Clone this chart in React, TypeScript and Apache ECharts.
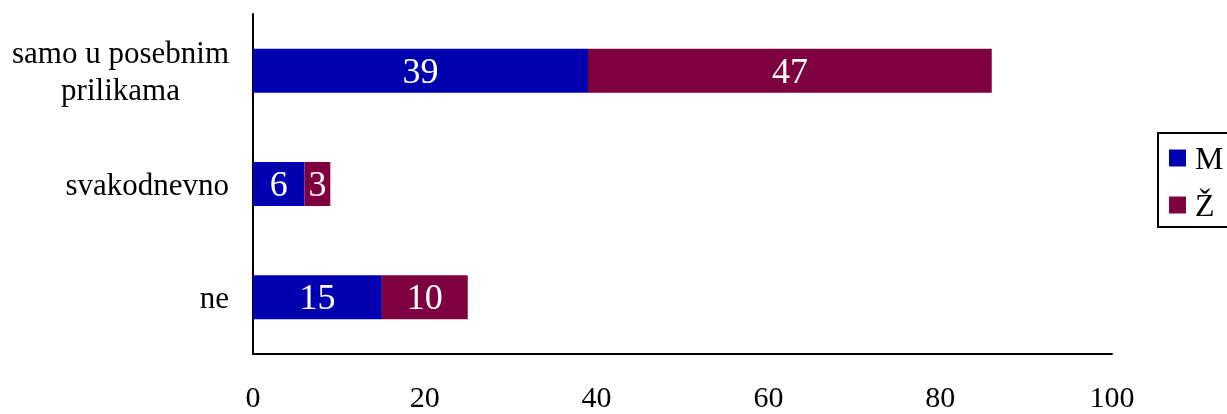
import React, { useEffect, useRef } from "react";
import * as echarts from "echarts";

const categories = ["ne", "svakodnevno", "samo u posebnim\nprilikama"];
const seriesNames = ["M", "Ž"];
const valuesM = [15, 6, 39];
const valuesZ = [10, 3, 47];
const colors = ["#0000b0", "#7f003f"];
const FONT = "'Liberation Serif', 'Times New Roman', serif";

export default function App() {
  const ref = useRef<HTMLDivElement>(null);
  useEffect(() => {
    if (!ref.current) return;
    const chart = echarts.init(ref.current, undefined, { renderer: "svg" });
    chart.setOption({
      animation: false,
      textStyle: { fontFamily: FONT },
      grid: { left: 253, right: 115, top: 14, bottom: 60, containLabel: false },
      legend: {
        orient: "vertical",
        left: 1158,
        top: 133,
        padding: [9, 40, 6, 11],
        borderColor: "#000",
        borderWidth: 2,
        itemWidth: 17,
        itemHeight: 17,
        itemGap: 15,
        icon: "rect",
        textStyle: { fontFamily: FONT, fontSize: 32, color: "#000", lineHeight: 32, padding: [0, 0, 0, 4] },
        data: seriesNames,
      },
      xAxis: {
        type: "value",
        min: 0,
        max: 100,
        interval: 20,
        splitLine: { show: false },
        axisTick: { show: false },
        axisLine: { show: true, lineStyle: { color: "#000", width: 2 } },
        axisLabel: { fontFamily: FONT, fontSize: 30, color: "#000", margin: 30, lineHeight: 24 },
      },
      yAxis: {
        type: "category",
        data: categories,
        axisTick: { show: false },
        axisLine: { show: true, lineStyle: { color: "#000", width: 2 } },
        axisLabel: {
          fontFamily: FONT,
          fontSize: 31,
          color: "#000",
          margin: 24,
          formatter: (v: string) => v.split("\n").map((l) => `{c|${l}}`).join("\n"),
          rich: { c: { fontFamily: FONT, fontSize: 31, color: "#000", align: "center", lineHeight: 37 } },
        },
      },
      series: [valuesM, valuesZ].map((vals, i) => ({
        name: seriesNames[i],
        type: "bar",
        stack: "total",
        barWidth: 44,
        data: vals,
        itemStyle: { color: colors[i] },
        label: {
          show: true,
          position: "inside",
          color: "#fff",
          fontFamily: FONT,
          fontSize: 36,
        },
      })),
    });
    return () => chart.dispose();
  }, []);
  return (
    <div
      ref={ref}
      style={{ position: "fixed", left: 0, top: 0, width: 1227, height: 414 }}
    />
  );
}
